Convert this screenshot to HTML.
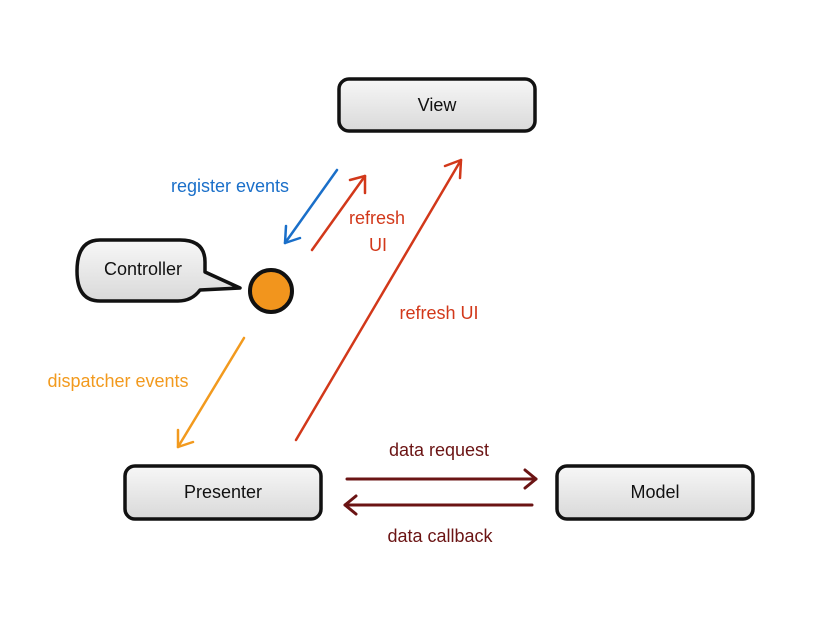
<!DOCTYPE html>
<html><head><meta charset="utf-8"><style>
html,body{margin:0;padding:0;background:#fff;}
svg{display:block;}
text{font-family:"Liberation Sans",sans-serif;font-size:18px;}
</style></head><body>
<svg width="831" height="633" viewBox="0 0 831 633" xmlns="http://www.w3.org/2000/svg">
<defs>
<linearGradient id="g" x1="0" y1="0" x2="0" y2="1">
<stop offset="0" stop-color="#f7f7f7"/><stop offset="1" stop-color="#d9d9d9"/>
</linearGradient>
</defs>
<rect x="339" y="79" width="196" height="52" rx="10" fill="url(#g)" stroke="#111" stroke-width="3.5"/>
<text x="437" y="111" text-anchor="middle" fill="#111">View</text>
<rect x="125" y="466" width="196" height="53" rx="10" fill="url(#g)" stroke="#111" stroke-width="3.5"/>
<text x="223" y="498" text-anchor="middle" fill="#111">Presenter</text>
<rect x="557" y="466" width="196" height="53" rx="10" fill="url(#g)" stroke="#111" stroke-width="3.5"/>
<text x="655" y="498" text-anchor="middle" fill="#111">Model</text>
<path d="M100,240 H180 Q205,240 205,262 V272 L240,288 L200,290 Q192,301 178,301 H100 Q77,301 77,271 Q77,240 100,240 Z" fill="url(#g)" stroke="#111" stroke-width="3.5" stroke-linejoin="round"/>
<text x="143" y="275" text-anchor="middle" fill="#111">Controller</text>
<circle cx="271" cy="291" r="21" fill="#f2951d" stroke="#111" stroke-width="4"/>
<g fill="none" stroke-width="2.5" stroke-linecap="round" stroke-linejoin="round">
<g stroke="#1a6fc9"><path d="M337,170 L285,243"/><path d="M286,226 L285,243 L300,238"/></g>
<g stroke="#d2381a"><path d="M312,250 L365,176"/><path d="M350,180 L365,176 L365,193"/></g>
<g stroke="#d2381a"><path d="M296,440 L461,160"/><path d="M445,166 L461,160 L460,178"/></g>
<g stroke="#f29a1e"><path d="M244,338 L178,447"/><path d="M178,430 L178,447 L193,442"/></g>
<g stroke="#6b1414" stroke-width="3"><path d="M347,479 L536,479"/><path d="M525,470 L536,479 L525,488"/></g>
<g stroke="#6b1414" stroke-width="3"><path d="M532,505 L345,505"/><path d="M356,496 L345,505 L356,514"/></g>
</g>
<text x="230" y="192" text-anchor="middle" fill="#1a6fc9">register events</text>
<text x="377" y="224" text-anchor="middle" fill="#d2381a">refresh</text>
<text x="378" y="251" text-anchor="middle" fill="#d2381a">UI</text>
<text x="439" y="319" text-anchor="middle" fill="#d2381a">refresh UI</text>
<text x="118" y="387" text-anchor="middle" fill="#f29a1e">dispatcher events</text>
<text x="439" y="456" text-anchor="middle" fill="#6b1414">data request</text>
<text x="440" y="542" text-anchor="middle" fill="#6b1414">data callback</text>
</svg>
</body></html>
